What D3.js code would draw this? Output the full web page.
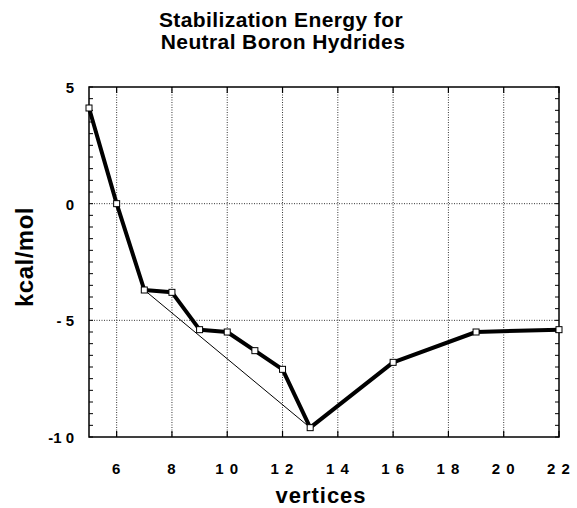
<!DOCTYPE html>
<html>
<head>
<meta charset="utf-8">
<script src="https://cdn.jsdelivr.net/npm/d3@7"></script>
<style>
  body { margin: 0; background: #fff; }
  text { font-family: "Liberation Sans", Arial, sans-serif; font-weight: bold; fill: #000; }
</style>
</head>
<body>
<svg id="chart" width="577" height="508"></svg>
<script>
// data
var vertices = [5, 6, 7, 8, 9, 10, 11, 12, 13, 16, 19, 22];
var energy = [4.1, 0, -3.7, -3.8, -5.4, -5.5, -6.3, -7.1, -9.6, -6.8, -5.5, -5.4];
// thin connector between 7 and 13
var thinX = [7, 13];
var thinY = [-3.7, -9.6];
var xTicks = [6, 8, 10, 12, 14, 16, 18, 20, 22];
var xTickLabels = ["6", "8", "1 0", "1 2", "1 4", "1 6", "1 8", "2 0", "2 2"];
var yTicks = [5, 0, -5, -10];
var yTickLabels = ["5", "0", "- 5", "-1 0"];

var svg = d3.select("#chart");
var pLeft = 89, pRight = 559, pTop = 87, pBottom = 437;

var x = d3.scaleLinear().domain([5, 22]).range([pLeft, pRight]);
var y = d3.scaleLinear().domain([-10, 5]).range([pBottom, pTop]);

var data = vertices.map(function(v, i) { return {x: v, y: energy[i]}; });

// grid, dotted
svg.append("g").selectAll("line")
  .data(xTicks.filter(function(d) { return d > 5 && d < 22; }))
  .enter().append("line")
    .attr("x1", function(d) { return x(d); })
    .attr("x2", function(d) { return x(d); })
    .attr("y1", pTop).attr("y2", pBottom)
    .attr("stroke", "#000").attr("stroke-width", 0.8)
    .attr("stroke-dasharray", "1,1.5");

svg.append("g").selectAll("line")
  .data([0, -5])
  .enter().append("line")
    .attr("x1", pLeft).attr("x2", pRight)
    .attr("y1", function(d) { return y(d); })
    .attr("y2", function(d) { return y(d); })
    .attr("stroke", "#000").attr("stroke-width", 0.8)
    .attr("stroke-dasharray", "1,1.5");

// minor y ticks every 0.5, inside on both sides
var minor = d3.range(-10, 5.01, 0.5);
svg.append("g").selectAll("line")
  .data(minor).enter().append("line")
    .attr("x1", pLeft).attr("x2", pLeft + 4)
    .attr("y1", function(d) { return y(d); })
    .attr("y2", function(d) { return y(d); })
    .attr("stroke", "#000").attr("stroke-width", 1);
svg.append("g").selectAll("line")
  .data(minor).enter().append("line")
    .attr("x1", pRight).attr("x2", pRight - 4)
    .attr("y1", function(d) { return y(d); })
    .attr("y2", function(d) { return y(d); })
    .attr("stroke", "#000").attr("stroke-width", 1);

// x ticks inside top and bottom
svg.append("g").selectAll("line")
  .data(xTicks).enter().append("line")
    .attr("x1", function(d) { return x(d); })
    .attr("x2", function(d) { return x(d); })
    .attr("y1", pBottom).attr("y2", pBottom - 6)
    .attr("stroke", "#000").attr("stroke-width", 1.2);
svg.append("g").selectAll("line")
  .data(xTicks).enter().append("line")
    .attr("x1", function(d) { return x(d); })
    .attr("x2", function(d) { return x(d); })
    .attr("y1", pTop).attr("y2", pTop + 6)
    .attr("stroke", "#000").attr("stroke-width", 1.2);

// frame
svg.append("rect")
  .attr("x", pLeft).attr("y", pTop)
  .attr("width", pRight - pLeft).attr("height", pBottom - pTop)
  .attr("fill", "none").attr("stroke", "#000").attr("stroke-width", 1.5);

// thin line
svg.append("line")
  .attr("x1", x(thinX[0])).attr("y1", y(thinY[0]))
  .attr("x2", x(thinX[1])).attr("y2", y(thinY[1]))
  .attr("stroke", "#000").attr("stroke-width", 1);

// thick line
var line = d3.line()
  .x(function(d) { return x(d.x); })
  .y(function(d) { return y(d.y); });
svg.append("path")
  .datum(data)
  .attr("d", line)
  .attr("fill", "none")
  .attr("stroke", "#000")
  .attr("stroke-width", 4)
  .attr("stroke-linejoin", "round");

// markers
svg.append("g").selectAll("rect")
  .data(data).enter().append("rect")
    .attr("x", function(d) { return x(d.x) - 3; })
    .attr("y", function(d) { return y(d.y) - 3; })
    .attr("width", 6).attr("height", 6)
    .attr("fill", "#fff").attr("stroke", "#000").attr("stroke-width", 1);

// tick labels
svg.append("g").selectAll("text")
  .data(xTicks).enter().append("text")
    .attr("x", function(d) { return x(d); })
    .attr("y", 474)
    .attr("text-anchor", "middle")
    .style("font-size", "15px")
    .style("letter-spacing", "1px")
    .text(function(d, i) { return xTickLabels[i]; });

svg.append("g").selectAll("text")
  .data(yTicks).enter().append("text")
    .attr("x", 74)
    .attr("y", function(d) { return y(d) + 6; })
    .attr("text-anchor", "end")
    .style("font-size", "15px")
    .text(function(d, i) { return yTickLabels[i]; });

// titles
svg.append("text")
  .attr("x", 281).attr("y", 27)
  .attr("text-anchor", "middle")
  .style("font-size", "21px")
  .style("letter-spacing", "0.4px")
  .text("Stabilization Energy for");
svg.append("text")
  .attr("x", 283).attr("y", 49)
  .attr("text-anchor", "middle")
  .style("font-size", "21px")
  .style("letter-spacing", "0.4px")
  .text("Neutral Boron Hydrides");

svg.append("text")
  .attr("x", 321).attr("y", 503)
  .attr("text-anchor", "middle")
  .style("font-size", "22px")
  .style("letter-spacing", "1px")
  .text("vertices");

svg.append("text")
  .attr("transform", "translate(33,257) rotate(-90)")
  .attr("text-anchor", "middle")
  .style("font-size", "24px")
  .style("letter-spacing", "0.5px")
  .text("kcal/mol");
</script>
</body>
</html>
